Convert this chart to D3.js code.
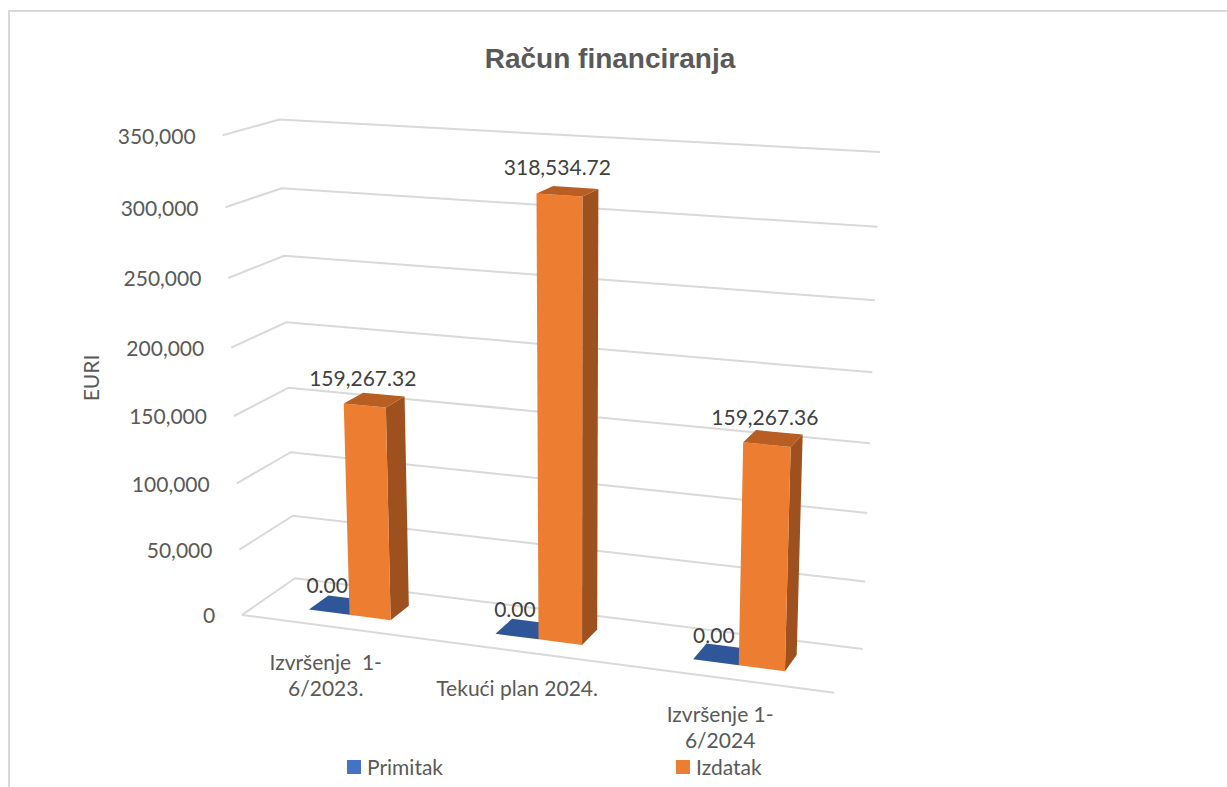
<!DOCTYPE html>
<html><head><meta charset="utf-8">
<script src="https://cdn.jsdelivr.net/npm/d3@7"></script>
<style>body{margin:0;background:#fff} svg{display:block}</style>
</head><body>
<svg id="c" width="1227" height="787"></svg>
<script>
// ---------- data ----------
const categories = [["Izvršenje  1-", "6/2023."], ["Tekući plan 2024."], ["Izvršenje 1-", "6/2024"]];
const seriesNames = ["Primitak", "Izdatak"];
const primitak = [0, 0, 0];
const izdatak = [159267.32, 318534.72, 159267.36];
const tickValues = [0, 50000, 100000, 150000, 200000, 250000, 300000, 350000];
const yMax = 350000;
const chartTitle = "Račun financiranja";
const axisTitle = "EURI";

// ---------- layout / style ----------
const seriesColors = {
  Primitak: {front: "#4472C4", side: "#2F528F", top: "#30569A"},
  Izdatak:  {front: "#ED7D31", side: "#9E501E", top: "#B95E22"}
};
// projected corners of the 3-D plot box: world [X,Y,Z] (unit box) -> pixel
const boxCorners = [
  [[0,0,0],[242,615]], [[0,1,0],[222,136]],
  [[0,0,1],[295,578]], [[0,1,1],[280,119]],
  [[1,0,1],[862,650]], [[1,1,1],[880,152]],
  [[1,0,0],[835,692]]
];

function fitProjection(corners){
  const s = 400, cu = 550, cv = 400, n = 11;
  const rows = [], rhs = [];
  corners.forEach(([[X,Y,Z],[u0,v0]]) => {
    const u = (u0-cu)/s, v = (v0-cv)/s;
    rows.push([X,Y,Z,1,0,0,0,0,-u*X,-u*Y,-u*Z]); rhs.push(u);
    rows.push([0,0,0,0,X,Y,Z,1,-v*X,-v*Y,-v*Z]); rhs.push(v);
  });
  const M = Array.from({length:n}, () => new Array(n+1).fill(0));
  rows.forEach((r,k) => { for (let i=0;i<n;i++){ for (let j=0;j<n;j++) M[i][j]+=r[i]*r[j]; M[i][n]+=r[i]*rhs[k]; } });
  for (let c=0;c<n;c++){
    let piv=c; for (let r=c+1;r<n;r++) if (Math.abs(M[r][c])>Math.abs(M[piv][c])) piv=r;
    [M[c],M[piv]]=[M[piv],M[c]];
    for (let r=0;r<n;r++){ if (r===c) continue; const f=M[r][c]/M[c][c]; for (let j=c;j<=n;j++) M[r][j]-=f*M[c][j]; }
  }
  const p = M.map((row,i) => row[n]/row[i]);
  return (X,Y,Z) => {
    const w = p[8]*X+p[9]*Y+p[10]*Z+1;
    return [(p[0]*X+p[1]*Y+p[2]*Z+p[3])/w*s+cu, (p[4]*X+p[5]*Y+p[6]*Z+p[7])/w*s+cv];
  };
}
const proj = fitProjection(boxCorners);

const svg = d3.select("#c");
const yScale = d3.scaleLinear().domain([0, yMax]).range([0, 1]);
const xBand = d3.scaleBand().domain(d3.range(categories.length)).range([0, 1]).paddingInner(0.555).paddingOuter(0.2775);
const xSeries = d3.scaleBand().domain(seriesNames).range([0, xBand.bandwidth()]);
const zDepth = d3.scaleLinear().domain([0, 1]).range([0.31, 0.69]);
const fmtTick = d3.format(",");
const fmtVal = d3.format(",.2f");
const line = d3.line();
const FONT = "Lato, 'Noto Sans', sans-serif";

// chart border
svg.append("path").attr("d", "M9,787V11H1227").attr("fill","none").attr("stroke","#d9d9d9").attr("stroke-width",2);

// title
svg.append("text").attr("x", 610).attr("y", 68).attr("text-anchor","middle")
  .attr("font-family","'Liberation Sans', Arial, sans-serif").attr("font-weight","bold")
  .attr("font-size",28).attr("fill","#595959").text(chartTitle);

// gridlines (side wall + back wall)
const grid = svg.append("g").attr("fill","none").attr("stroke","#d9d9d9").attr("stroke-width",2);
tickValues.forEach(t => {
  const y = yScale(t);
  grid.append("path").attr("d", line([proj(0,y,0), proj(0,y,1), proj(1,y,1)]));
});
grid.append("path").attr("d", line([proj(0,0,0), proj(1,0,0)]));

// tick labels
svg.append("g").selectAll("text").data(tickValues).join("text")
  .attr("x", d => proj(0, yScale(d), 0)[0] - 27)
  .attr("y", d => proj(0, yScale(d), 0)[1] + 1)
  .attr("dy","0.35em").attr("text-anchor","end")
  .attr("font-family",FONT).attr("font-size",21).attr("fill","#595959")
  .text(d => fmtTick(d));

// axis title
svg.append("text").attr("transform","translate(99,378) rotate(-90)").attr("text-anchor","middle")
  .attr("font-family",FONT).attr("font-size",21).attr("fill","#595959").text(axisTitle);

// bars
const seriesValues = {Primitak: primitak, Izdatak: izdatak};
const z0 = zDepth(0), z1 = zDepth(1);
const bars = svg.append("g");
const labelData = [];
categories.forEach((cat, i) => {
  seriesNames.forEach(s => {
    const v = seriesValues[s][i];
    const x0 = xBand(i) + xSeries(s), x1 = x0 + xSeries.bandwidth();
    const y1 = yScale(v);
    const col = seriesColors[s];
    const poly = pts => bars.append("path").attr("d", line(pts.map(p => proj(...p))) + "Z");
    if (y1 > 0) {
      poly([[x1,0,z0],[x1,0,z1],[x1,y1,z1],[x1,y1,z0]]).attr("fill", col.side);
      poly([[x0,0,z0],[x1,0,z0],[x1,y1,z0],[x0,y1,z0]]).attr("fill", col.front);
    }
    poly([[x0,y1,z0],[x1,y1,z0],[x1,y1,z1],[x0,y1,z1]]).attr("fill", col.top);
    const p = proj((x0+x1)/2, y1, z0);
    labelData.push({x: p[0] - 2, y: p[1] - 27, t: fmtVal(v)});
  });
});

// data labels
svg.append("g").selectAll("text").data(labelData).join("text")
  .attr("x", d => d.x).attr("y", d => d.y).attr("dy","0.35em").attr("text-anchor","middle")
  .attr("font-family",FONT).attr("font-size",21).attr("fill","#404040").text(d => d.t);

// category labels
const catG = svg.append("g").attr("font-family",FONT).attr("font-size",21).attr("fill","#595959");
categories.forEach((lines, i) => {
  const p = proj(xBand(i) + xBand.bandwidth()/2, 0, 0);
  const t = catG.append("text").attr("text-anchor","middle").attr("xml:space","preserve").style("white-space","pre");
  lines.forEach((l, k) => t.append("tspan").attr("x", p[0] - 8).attr("y", p[1] + 36 + k*26).attr("dy","0.35em").text(l));
});

// legend
const legendX = {Primitak: 347, Izdatak: 676};
const leg = svg.append("g");
seriesNames.forEach(s => {
  leg.append("rect").attr("x", legendX[s]).attr("y", 760).attr("width",14).attr("height",14).attr("fill", seriesColors[s].front);
  leg.append("text").attr("x", legendX[s] + 20).attr("y", 767.5).attr("dy","0.35em")
    .attr("font-family",FONT).attr("font-size",21).attr("fill","#595959").text(s);
});
</script>
</body></html>
